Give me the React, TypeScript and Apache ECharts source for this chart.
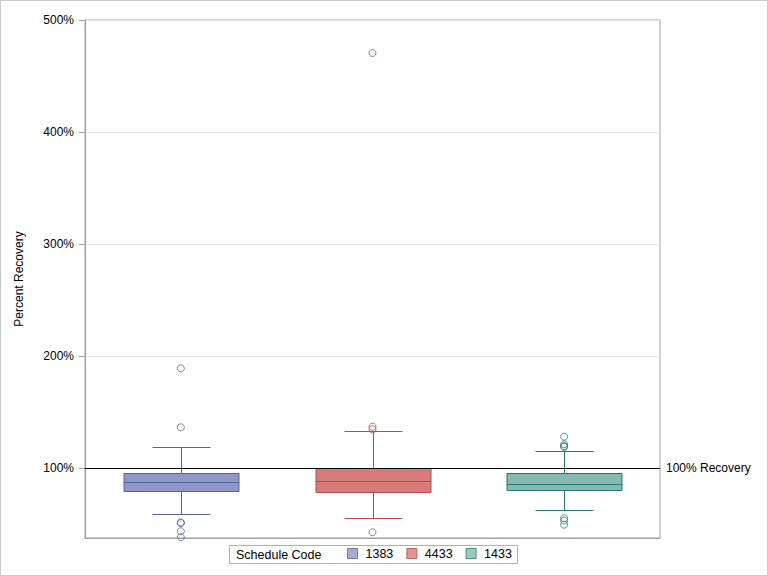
import React, { useEffect, useRef } from "react";
import * as echarts from "echarts";

const categories = ["1383", "4433", "1433"];
// [low whisker, Q1, median, Q3, high whisker] in percent
const boxStats = [
  [58.7, 79.2, 87.2, 95.3, 118.5],
  [55.4, 78.3, 88.1, 100.3, 132.8],
  [62.5, 80.1, 85.4, 95.3, 114.9],
];
const outliers1383 = [189.0, 136.3, 51.4, 50.7, 43.5, 38.2];
const outliers4433 = [470.5, 136.9, 134.6, 42.6];
const outliers1433 = [128.0, 121.2, 119.6, 118.8, 55.1, 53.0, 49.4];
const yTicks = [100, 200, 300, 400, 500];
const yMin = 37.5;
const yMax = 500;
const referenceValue = 100;

const fills = ["#8e97c5", "#d77b78", "#84bab0"];
const strokes = ["#5662a2", "#b24d49", "#257a6f"];
const FONT = "'Liberation Sans', Arial, sans-serif";

export default function App() {
  const ref = useRef<HTMLDivElement>(null);
  useEffect(() => {
    document.body.style.margin = "0";
    const chart = echarts.init(ref.current!, undefined, { renderer: "svg" });
    const outlierSets = [outliers1383, outliers4433, outliers1433];
    const crisp = (v: number) => Math.round(v) + 0.5;
    const option: any = {
      animation: false,
      backgroundColor: "#fff",
      textStyle: { fontFamily: FONT },
      grid: {
        left: 85,
        top: 20,
        right: 108,
        bottom: 38,
        show: true,
        borderColor: "#a0a0a0",
        borderWidth: 1,
      },
      xAxis: {
        type: "category",
        data: categories,
        axisLine: { show: true, lineStyle: { color: "#a0a0a0" } },
        axisTick: { show: false },
        axisLabel: { show: false },
        splitLine: { show: false },
      },
      yAxis: {
        type: "value",
        min: yMin,
        max: yMax,
        name: "Percent Recovery",
        nameLocation: "middle",
        nameGap: 60,
        nameTextStyle: { color: "#000", fontSize: 12, fontFamily: FONT },
        axisLine: { show: true, lineStyle: { color: "#a0a0a0" } },
        axisTick: {
          show: true,
          length: 6,
          customValues: yTicks,
          lineStyle: { color: "#a0a0a0" },
        },
        axisLabel: {
          customValues: yTicks,
          formatter: (v: number) => `${v}%`,
          color: "#000",
          fontSize: 12,
          margin: 11,
          fontFamily: FONT,
        },
        splitLine: { show: true, lineStyle: { color: "#e4e4e4" } },
      },
      legend: {
        left: 342,
        top: 542,
        itemWidth: 10,
        itemHeight: 10,
        itemGap: 13,
        selectedMode: false,
        textStyle: {
          color: "#000",
          fontSize: 12.5,
          fontFamily: FONT,
          padding: [0, 0, 0, 3],
        },
        data: categories.map((c, i) => ({
          name: c,
          icon: "rect",
          itemStyle: { color: fills[i], borderColor: strokes[i], borderWidth: 1 },
        })),
      },
      graphic: [
        {
          type: "rect",
          shape: { x: 0.5, y: 0.5, width: 767, height: 575 },
          style: { fill: "none", stroke: "#c8c8c8", lineWidth: 1 },
          silent: true,
        },
        {
          type: "rect",
          shape: { x: 229.5, y: 545.5, width: 288, height: 18 },
          style: { fill: "none", stroke: "#b0b0b0", lineWidth: 1 },
          silent: true,
        },
        {
          type: "text",
          x: 236,
          y: 554.5,
          style: {
            text: "Schedule Code",
            fill: "#000",
            fontSize: 12.5,
            fontFamily: FONT,
            verticalAlign: "middle",
          },
          silent: true,
        },
      ],
      series: [
        {
          type: "custom",
          name: "boxes",
          encode: { x: 0, y: [1, 2, 3, 4, 5] },
          data: boxStats.map((s, i) => [i, ...s]),
          renderItem: (params: any, api: any) => {
            const idx = api.value(0);
            const i = params.dataIndex;
            const cx = crisp(api.coord([idx, api.value(1)])[0]);
            const yLow = crisp(api.coord([idx, api.value(1)])[1]);
            const yQ1 = crisp(api.coord([idx, api.value(2)])[1]);
            const yMed = crisp(api.coord([idx, api.value(3)])[1]);
            const yQ3 = crisp(api.coord([idx, api.value(4)])[1]);
            const yHigh = crisp(api.coord([idx, api.value(5)])[1]);
            const band = api.size([1, 0])[0];
            const bw = Math.round(band * 0.6);
            const ww = Math.round(bw / 2);
            const ls = { stroke: strokes[i], lineWidth: 1 };
            return {
              type: "group",
              children: [
                { type: "line", shape: { x1: cx, y1: yHigh, x2: cx, y2: yQ3 }, style: ls },
                { type: "line", shape: { x1: cx, y1: yQ1, x2: cx, y2: yLow }, style: ls },
                { type: "line", shape: { x1: cx - ww / 2, y1: yHigh, x2: cx + ww / 2, y2: yHigh }, style: ls },
                { type: "line", shape: { x1: cx - ww / 2, y1: yLow, x2: cx + ww / 2, y2: yLow }, style: ls },
                {
                  type: "rect",
                  shape: { x: cx - bw / 2, y: yQ3, width: bw, height: yQ1 - yQ3 },
                  style: { fill: fills[i], stroke: strokes[i], lineWidth: 1 },
                },
                { type: "line", shape: { x1: cx - bw / 2, y1: yMed, x2: cx + bw / 2, y2: yMed }, style: ls },
              ],
            };
          },
          markLine: {
            silent: true,
            symbol: "none",
            data: [{ yAxis: referenceValue }],
            lineStyle: { color: "#000", width: 1, type: "solid" },
            label: {
              show: true,
              position: "end",
              formatter: "100% Recovery",
              color: "#000",
              fontSize: 12,
              fontFamily: FONT,
              distance: 6,
            },
          },
          z: 2,
        },
        ...categories.map((c, i) => ({
          type: "scatter",
          name: c,
          data: outlierSets[i].map((v) => [i, v]),
          symbol: "circle",
          symbolSize: 7,
          itemStyle: { color: "rgba(255,255,255,0)", borderColor: strokes[i], borderWidth: 1 },
          z: 3,
        })),
      ],
    };
    chart.setOption(option);
    return () => chart.dispose();
  }, []);
  return <div ref={ref} style={{ width: 768, height: 576 }} />;
}
